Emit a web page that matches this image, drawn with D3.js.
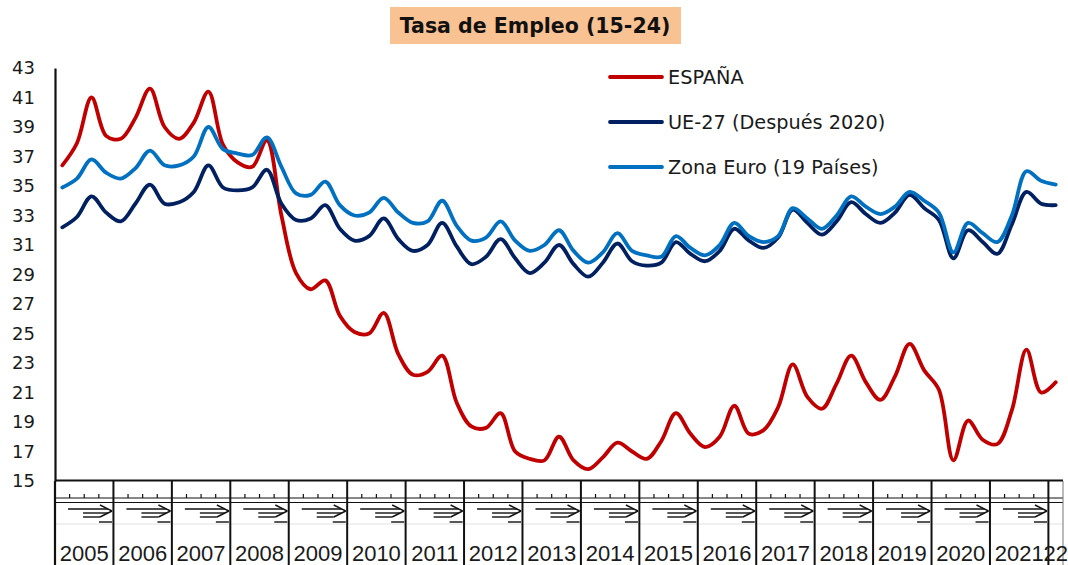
<!DOCTYPE html>
<html><head><meta charset="utf-8">
<script src="https://cdn.jsdelivr.net/npm/d3@7"></script>
<style>body{margin:0;background:#fff}svg{display:block}</style>
</head><body>
<svg id="c" width="1068" height="565"></svg>
<script>
const years = ["2005","2006","2007","2008","2009","2010","2011","2012","2013","2014","2015","2016","2017","2018","2019","2020","2021","22"];
const quarterNames = ["T1","T2","T3","T4"];
const yTicks = [15,17,19,21,23,25,27,29,31,33,35,37,39,41,43];
const seriesNames = ["ESPAÑA","UE-27 (Después 2020)","Zona Euro (19 Países)"];
const seriesColors = ["#C00000","#002060","#0070C0"];
const titleText = "Tasa de Empleo (15-24)";

const espana = [
  36.4,37.9,41.0,38.4, 38.2,39.6,41.6,39.0, 38.2,39.3,41.4,37.8, 36.6,36.3,38.1,33.0,
  29.1,28.0,28.6,26.2, 25.1,25.0,26.4,23.6, 22.2,22.4,23.5,20.3, 18.7,18.6,19.6,17.0,
  16.5,16.4,18.0,16.4, 15.8,16.6,17.6,17.0, 16.5,17.7,19.6,18.2, 17.3,18.0,20.1,18.2,
  18.45,20.0,22.9,20.7, 19.9,21.6,23.5,21.7, 20.5,22.1,24.3,22.5, 21.2,16.4,19.1,17.8,
  17.5,19.8,23.9,21.0, 21.7];
const ue27 = [
  32.2,32.9,34.3,33.2, 32.6,33.8,35.1,33.8, 33.9,34.6,36.4,34.9, 34.7,34.9,36.1,33.8,
  32.7,32.8,33.7,32.1, 31.3,31.6,32.8,31.4, 30.6,31.0,32.5,30.9, 29.7,30.2,31.4,30.1,
  29.1,29.8,31.0,29.7, 28.85,29.8,31.1,29.9, 29.6,29.8,31.2,30.4, 29.9,30.6,32.1,31.3,
  30.8,31.5,33.4,32.5, 31.7,32.6,33.9,33.1, 32.5,33.2,34.4,33.5, 32.7,30.1,32.0,31.2,
  30.4,32.4,34.6,33.8, 33.7];
const zonaEuro = [
  34.9,35.5,36.8,35.9, 35.5,36.2,37.4,36.4, 36.4,37.0,39.0,37.5, 37.2,37.1,38.3,36.3,
  34.5,34.4,35.3,33.7, 33.0,33.2,34.2,33.2, 32.5,32.6,34.0,32.3, 31.3,31.5,32.6,31.3,
  30.6,31.0,32.0,30.6, 29.8,30.5,31.8,30.6, 30.3,30.2,31.6,30.8, 30.3,31.0,32.5,31.6,
  31.2,31.6,33.5,32.8, 32.1,33.0,34.3,33.6, 33.1,33.6,34.6,34.0, 33.2,30.5,32.5,31.8,
  31.2,33.0,36.0,35.35, 35.1];

const categories = [];
years.forEach((yr,i)=>{
  const n = (i === years.length-1) ? 1 : 4;
  for (let q=0;q<n;q++) categories.push(yr+"-"+quarterNames[q]);
});

const svg = d3.select("#c");
const pLeft = 55, pRight = 1063, pTop = 68, pBottom = 481;
const x = d3.scaleBand().domain(categories).range([pLeft,pRight]);
const y = d3.scaleLinear().domain([15,43]).range([pBottom,pTop]);
const xc = c => x(c) + x.bandwidth()/2;

// Title
const tg = svg.append("g");
tg.append("rect").attr("x",390).attr("y",7).attr("width",291).attr("height",37).attr("fill","#F9C292");
tg.append("text").attr("x",535).attr("y",32.5).attr("text-anchor","middle")
  .attr("font-family","'DejaVu Sans'").attr("font-weight","bold").attr("font-size",20.5)
  .attr("fill","#111").text(titleText);

// Y axis
const yAxis = d3.axisLeft(y).tickValues(yTicks).tickSize(0).tickSizeOuter(0).tickPadding(20).tickFormat(d3.format("d"));
const ya = svg.append("g").attr("transform",`translate(${pLeft},0)`).call(yAxis);
ya.select(".domain").attr("stroke","#111").attr("stroke-width",2.2);
ya.selectAll("text").attr("font-family","'DejaVu Sans'").attr("font-size",18).attr("fill","#1a1a1a");

// Lines
const series = [espana, ue27, zonaEuro];
const line = d3.line().x((d,i)=>xc(categories[i])).y(d=>y(d)).curve(d3.curveCatmullRom.alpha(0.5));
series.forEach((s,k)=>{
  svg.append("path").datum(s).attr("d",line).attr("fill","none")
    .attr("stroke",seriesColors[k]).attr("stroke-width",3.8).attr("stroke-linejoin","round").attr("stroke-linecap","round");
});

// X axis (multi-level)
const xg = svg.append("g");
xg.append("line").attr("x1",pLeft).attr("x2",pRight).attr("y1",480.5).attr("y2",480.5).attr("stroke","#111").attr("stroke-width",2);
xg.append("line").attr("x1",pLeft).attr("x2",pRight).attr("y1",498).attr("y2",498).attr("stroke","#111").attr("stroke-width",1.2);
xg.append("line").attr("x1",pLeft).attr("x2",pRight).attr("y1",502.5).attr("y2",502.5).attr("stroke","#111").attr("stroke-width",1.2);
xg.append("line").attr("x1",pLeft).attr("x2",pRight).attr("y1",524).attr("y2",524).attr("stroke","#e2e2e2").attr("stroke-width",1);

years.forEach((yr,i)=>{
  const first = categories.indexOf(yr+"-T1");
  const n = (i === years.length-1) ? 1 : 4;
  const s = x(categories[first]);
  const e = s + n*x.bandwidth();
  if (n === 4) {
    for (let q=1;q<4;q++){
      const tx = x(categories[first+q]);
      xg.append("line").attr("x1",tx).attr("x2",tx).attr("y1",494).attr("y2",498).attr("stroke","#111").attr("stroke-width",1.2);
    }
    const segs = [[s+13,509,s+53,509],[s+28,513,s+53,513],[s+45,505,s+57,511],[s+57,511,s+45,517],[s+28,517,s+45,517],[s+44,522,s+57,522]];
    segs.forEach(g=>xg.append("line").attr("x1",g[0]).attr("y1",g[1]).attr("x2",g[2]).attr("y2",g[3]).attr("stroke","#111").attr("stroke-width",1.4));
  }
  xg.append("line").attr("x1",e).attr("x2",e).attr("y1",481).attr("y2",565)
    .attr("stroke", i === years.length-1 ? "#777" : "#111").attr("stroke-width", i === years.length-1 ? 1 : 2);
  xg.append("text").attr("x",(s+e)/2).attr("y",561).attr("text-anchor","middle")
    .attr("font-family","'Liberation Sans'").attr("font-size",22).attr("fill","#1a1a1a").text(yr);
});
xg.append("line").attr("x1",pLeft).attr("x2",pLeft).attr("y1",481).attr("y2",565).attr("stroke","#111").attr("stroke-width",2.2);

// Legend
const lg = svg.append("g");
seriesNames.forEach((nm,k)=>{
  const ly = 77 + k*45;
  lg.append("line").attr("x1",610).attr("x2",662).attr("y1",ly).attr("y2",ly).attr("stroke",seriesColors[k]).attr("stroke-width",3.8).attr("stroke-linecap","round");
  lg.append("text").attr("x",668).attr("y",ly+7).attr("font-family","'DejaVu Sans'").attr("font-size",19.3).attr("fill","#1a1a1a").text(nm);
});
</script>
</body></html>
